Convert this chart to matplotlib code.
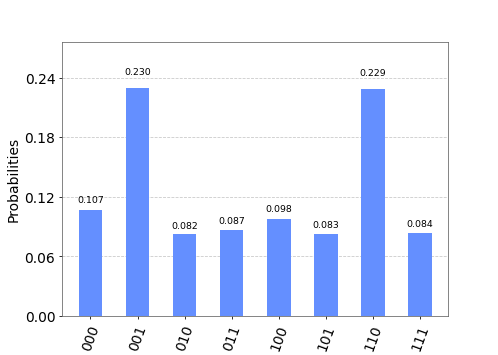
import matplotlib
matplotlib.use("Agg")
import matplotlib.pyplot as plt
import numpy as np

labels = ["000", "001", "010", "011", "100", "101", "110", "111"]
values = [0.107, 0.230, 0.082, 0.087, 0.098, 0.083, 0.229, 0.084]
yticks = [0.0, 0.06, 0.12, 0.18, 0.24]

fig, ax = plt.subplots(figsize=(7, 5), dpi=498 / 7)
x = np.arange(len(labels))
rects = ax.bar(x, values, width=0.5, color="#648fff")
for r, v in zip(rects, values):
    ax.text(r.get_x() + r.get_width() / 2, 1.05 * v, "%.3f" % v,
            ha="center", va="bottom", fontsize=9.5)
ax.set_xticks(x)
ax.set_xticklabels(labels, fontsize=14, rotation=70)
ax.set_xlim(-0.6, len(labels) - 0.4)
ax.set_ylim(0, 1.2 * max(values))
ax.set_yticks(yticks)
ax.set_yticklabels(["%.2f" % t for t in yticks], fontsize=14)
ax.set_ylabel("Probabilities", fontsize=14)
ax.yaxis.grid(True, linestyle="--", color="#c8c8c8", linewidth=0.8)
ax.set_axisbelow(True)
for s in ax.spines.values():
    s.set_color("#666666")
fig.savefig("out.png", dpi=498 / 7)
